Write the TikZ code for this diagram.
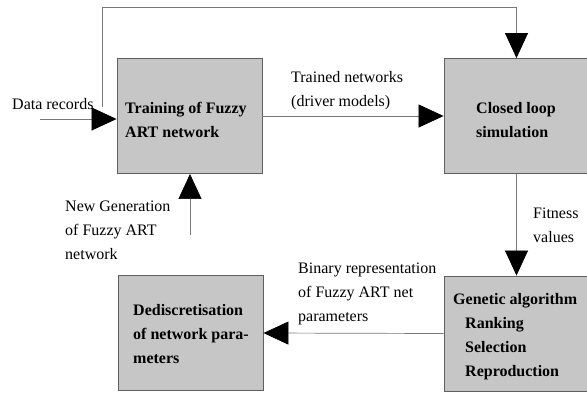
\documentclass[tikz,border=0pt]{standalone}
\usepackage{fontspec}
\setmainfont{Liberation Serif}
\usetikzlibrary{arrows.meta}
\definecolor{boxgray}{RGB}{198,198,198}
\definecolor{edgegray}{RGB}{95,95,95}
\definecolor{linegray}{RGB}{120,120,120}
\tikzset{
  blk/.style={draw=edgegray, fill=boxgray, line width=0.9pt,
    minimum width=145pt, minimum height=115pt, inner sep=0pt},
  % multi-line labels: the base anchor sits on the last line's baseline
  lbl/.style={anchor=base west, inner sep=0pt, align=left,
    font=\fontsize{16}{24}\selectfont},
  blbl/.style={lbl, font=\fontsize{16}{24}\selectfont\bfseries},
  link/.style={draw=linegray, line width=0.7pt},
  tip/.style={-{Triangle[length=25pt,width=23pt,color=black]}},
}
\begin{document}
\begin{tikzpicture}[x=1pt,y=-1pt]
  \clip (0,0) rectangle (587,392);
  \fill[white] (0,0) rectangle (587,392);

  % process blocks
  \node[blk] (train) at (189.5,116) {};
  \node[blk] (sim)   at (516.5,116) {};
  \node[blk] (dedis) at (190.5,333) {};
  \node[blk] (ga)    at (516.5,333.5) {};

  % block texts
  \node[blbl] (traintxt) at (125,137) {Training of Fuzzy\\ART network};
  \node[blbl, anchor=base] (simtxt) at (516,137) {Closed loop\\simulation};
  \node[blbl] (dedistxt) at (133,363) {Dediscretisation\\of network para-\\meters};
  \node[blbl] (gatxt) at (453,376) {Genetic algorithm\\\hspace*{12pt}Ranking\\\hspace*{12pt}Selection\\\hspace*{12pt}Reproduction};

  % free ends of the open connectors
  \coordinate (datain) at (40,119);
  \coordinate (loopstart) at (102,107);
  \coordinate (looptop) at (516.5,7);
  \coordinate (genin) at (190,235);

  % connectors
  \draw[link, tip] (datain) -- (datain -| train.west);
  \draw[link, tip] (loopstart) |- (looptop) -- (sim.north);
  \draw[link, tip] (train.east) -- (sim.west);
  \draw[link, tip] (sim.south) -- (ga.north);
  \draw[link, tip] (ga.west) -- (dedis.east);
  \draw[link, tip] (genin) -- (genin |- train.south);

  % connector labels
  \node[lbl] (datalbl) at (12,109) {Data records};
  \node[lbl] (trainedlbl) at (291,106) {Trained networks\\(driver models)};
  \node[lbl] (genlbl) at (65,259) {New Generation\\of Fuzzy ART\\network};
  \node[lbl] (fitlbl) at (533,242) {Fitness\\values};
  \node[lbl] (binlbl) at (298,321) {Binary representation\\of Fuzzy ART net\\parameters};
\end{tikzpicture}
\end{document}
